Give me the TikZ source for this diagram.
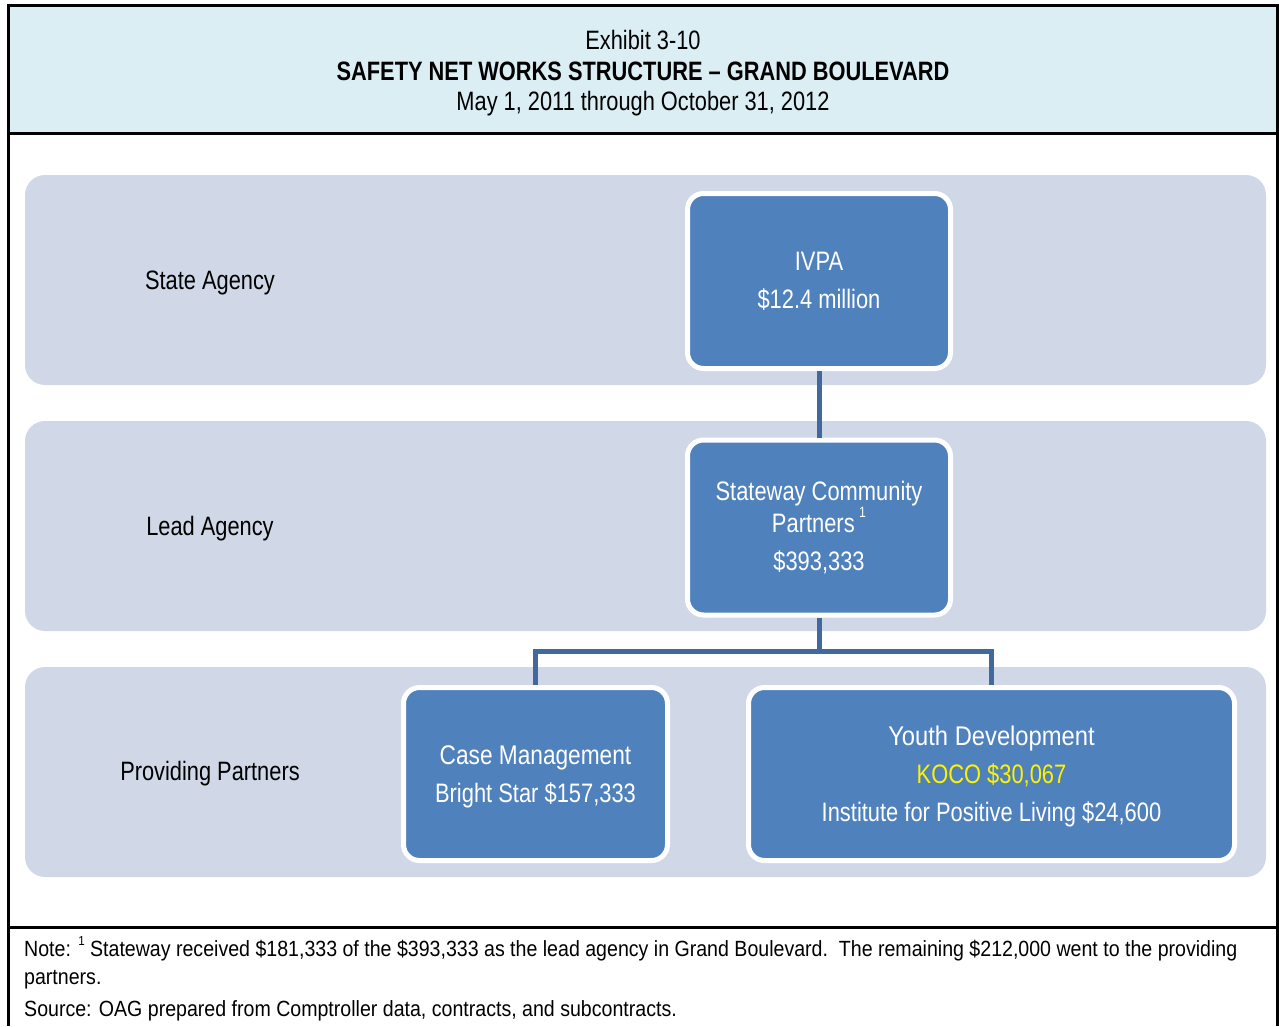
\documentclass[tikz,border=0pt]{standalone}
\usepackage{fontspec}
\setmainfont{Liberation Sans}[FakeStretch=0.82]
\newfontfamily\footfont{Liberation Sans}[FakeStretch=0.89]
\newfontfamily\headAfont{Liberation Sans}[FakeStretch=0.84]
\newfontfamily\headBfont{Liberation Sans}[FakeStretch=0.88]
\definecolor{headc}{HTML}{DBEEF4}
\definecolor{bandc}{HTML}{D0D8E8}
\definecolor{boxc}{HTML}{4F81BD}
\definecolor{connc}{HTML}{41699E}
\newcommand\myfs[2]{\fontsize{#1}{#2}\selectfont}
\newcommand\mysup[1]{\raisebox{0.55em}{\myfs{15}{15}#1}}
\newcommand\mysupf[1]{\raisebox{0.5em}{\myfs{13}{13}#1}}
\begin{document}
\begin{tikzpicture}[x=1pt,y=-1pt,
  band/.style={fill=bandc, rounded corners=20pt},
  box/.style={draw=white, line width=5pt, fill=boxc, rounded corners=16pt,
    text=white, align=center, inner sep=0pt, font=\myfs{26.7}{28}},
  lab/.style={font=\myfs{26.6}{28}, text=black, inner sep=0pt},
  conn/.style={draw=connc, line width=5pt}]
\useasboundingbox (0,0) rectangle (1279,1026);
% header
\fill[headc] (8.5,5.5) rectangle (1277.5,133.5);
\draw[line width=3pt, black] (8.5,1026) -- (8.5,5.5) -- (1277.5,5.5) -- (1277.5,1026);
\draw[line width=3pt, black] (8.5,133.5) -- (1277.5,133.5);
\draw[line width=3pt, black] (8.5,927) -- (1277.5,927);
\node[align=center, inner sep=0pt, font=\myfs{26.6}{30.5}] (title) at (643,73.5)
  {Exhibit 3-10\\ \textbf{SAFETY NET WORKS STRUCTURE -- GRAND BOULEVARD}\\ May 1, 2011 through October 31, 2012};
% bands
\fill[band] (25,175) rectangle (1266,385);
\fill[band] (25,421) rectangle (1266,631);
\fill[band] (25,667) rectangle (1266,877);
% row labels
\node[lab] (l1) at (210,283) {State Agency};
\node[lab] (l2) at (210,529) {Lead Agency};
\node[lab] (l3) at (210,774) {Providing Partners};
% boxes
\node[box, minimum width=263pt, minimum height=175pt] (ivpa) at (819,281)
  {IVPA\\[10pt] \$12.4 million};
\node[box, minimum width=263pt, minimum height=175pt] (stw) at (819,527.5)
  {Stateway Community\\ Partners\,\mysup{1}\\[10pt] \$393,333};
\node[box, minimum width=264pt, minimum height=173pt] (case) at (535.5,774)
  {\rule{0pt}{25pt}{\headAfont\myfs{27}{28}Case Management}\\[10pt] Bright Star \$157,333};
\node[box, minimum width=486pt, minimum height=173pt] (youth) at (991.5,774)
  {\rule{0pt}{25pt}{\headBfont\myfs{27}{28}Youth Development}\\[10pt] \textcolor{yellow}{KOCO \$30,067}\\[10pt] Institute for Positive Living \$24,600};
% connectors
\coordinate (split) at (819,651);
\draw[conn] (ivpa.south) -- (stw.north);
\draw[conn] (stw.south) -- (split) -| (case.north);
\draw[conn] (split) -| (youth.north);
% footer
\node[anchor=north west, align=left, inner sep=0pt, font=\footfont\myfs{22}{28}] (note) at (24,936)
  {Note: \mysupf{1} Stateway received \$181,333 of the \$393,333 as the lead agency in Grand Boulevard.\ \ The remaining \$212,000 went to the providing\\ partners.\\[4pt] Source: OAG prepared from Comptroller data, contracts, and subcontracts.};
\end{tikzpicture}
\end{document}
